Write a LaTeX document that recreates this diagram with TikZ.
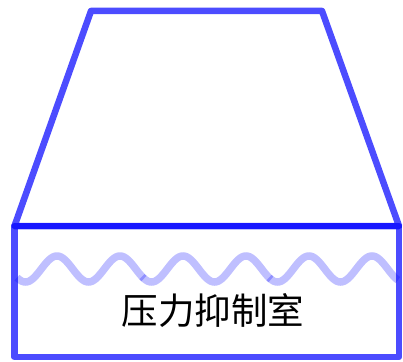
\documentclass[tikz,border=0pt]{standalone}
\usepackage{fontspec}
\newfontfamily\cjk{Noto Sans CJK SC}
\begin{document}
\begin{tikzpicture}[x=1pt,y=-1pt,
  outline/.style={draw=blue,draw opacity=0.7,line width=6.5pt,line join=round},
  wave/.style={draw=blue,draw opacity=0.25,line width=7.5pt,line cap=butt}]
\useasboundingbox (0,0) rectangle (403,361);
% trapezoid
\coordinate (tl) at (91,11);
\coordinate (tr) at (322,11);
\coordinate (bl) at (14.5,226);
\coordinate (br) at (399,226);
\coordinate (rbl) at (14.5,357);
\coordinate (rbr) at (399,357);
\draw[outline] (bl) -- (tl) -- (tr) -- (br) -- cycle;
\draw[outline] (bl) rectangle (rbr);
% wave in three overlapping pieces
\draw[wave] plot[domain=17:144,samples=120,smooth] (\x,{269-13*cos(5.7143*(\x-57))});
\draw[wave] plot[domain=142:271,samples=120,smooth] (\x,{269-13*cos(5.7143*(\x-57))});
\draw[wave] plot[domain=269:398,samples=120,smooth] (\x,{269-13*cos(5.7143*(\x-57))});
\node[font=\cjk\fontsize{36.5}{40}\selectfont,inner sep=0pt] (label) at (213,311) {压力抑制室};
\end{tikzpicture}
\end{document}
